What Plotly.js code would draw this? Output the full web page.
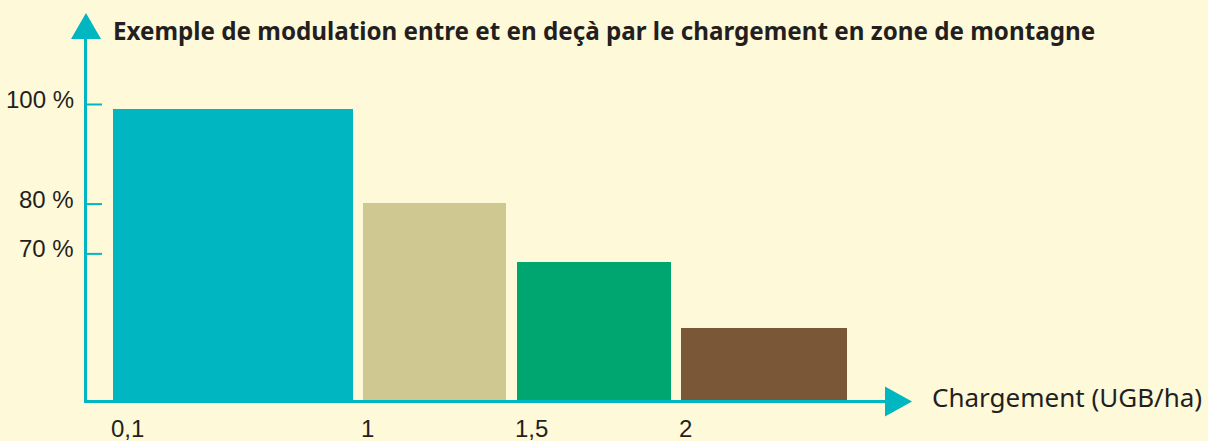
<!DOCTYPE html>
<html>
<head>
<meta charset="utf-8">
<script src="https://cdn.plot.ly/plotly-3.0.1.min.js"></script>
<style>html,body{margin:0;padding:0;background:#FEF9D8;}#chart{width:1208px;height:441px;}</style>
</head>
<body>
<div id="chart"></div>
<script>
// ---- data ----
const categories = ["0,1", "1", "1,5", "2"];          // chargement thresholds (UGB/ha)
const values = [99.1, 80.2, 68.4, 55.2];                // modulation (%)
const yTickVals = [100, 80, 70];
const yTickText = ["100 %", "80 %", "70 %"];
const titleText = "Exemple de modulation entre et en deçà par le chargement en zone de montagne";
const xAxisLabel = "Chargement (UGB/ha)";

// ---- layout / style constants ----
const W = 1208, H = 441;
const barEdges = [[113, 353], [363, 506], [517, 671], [681, 847]]; // x-axis units
const barColors = ["#00B6C1", "#CFC891", "#00A66F", "#7A5737"];
const teal = "#00B6C1";
const textColor = "#231F20";
const bg = "#FEF9D8";
const yRange = [32.43, 120.98];
const baseline = 40.46;
const fontFam = "Liberation Sans, Arial, sans-serif";
const wideFam = "Noto Sans, Liberation Sans, sans-serif";

const px2y = p => yRange[1] - (p / H) * (yRange[1] - yRange[0]);
const y2px = v => (yRange[1] - v) / (yRange[1] - yRange[0]) * H;

const axisX = 85.5;
const axisYpx = y2px(baseline) + 0.5;

const trace = {
  type: "bar",
  x: barEdges.map(e => (e[0] + e[1]) / 2),
  width: barEdges.map(e => e[1] - e[0]),
  y: values.map(v => v - baseline),
  base: values.map(() => baseline),
  marker: {color: barColors, line: {width: 0}},
  hoverinfo: "skip",
  showlegend: false
};

const shapes = [];
// y axis
shapes.push({type: "line", xref: "x", yref: "y", x0: axisX, x1: axisX, y0: px2y(403), y1: px2y(36), line: {color: teal, width: 3}});
// up arrow head
shapes.push({type: "path", xref: "x", yref: "y",
  path: `M ${71} ${px2y(39)} L ${86} ${px2y(13)} L ${101} ${px2y(39)} Z`,
  fillcolor: teal, line: {width: 0}});
// x axis
shapes.push({type: "line", xref: "x", yref: "y", x0: 84, x1: 888, y0: px2y(axisYpx), y1: px2y(axisYpx), line: {color: teal, width: 3}});
// right arrow head
shapes.push({type: "path", xref: "x", yref: "y",
  path: `M ${885} ${px2y(axisYpx - 15)} L ${912} ${px2y(axisYpx)} L ${885} ${px2y(axisYpx + 15)} Z`,
  fillcolor: teal, line: {width: 0}});
// y ticks
yTickVals.forEach(v => {
  shapes.push({type: "line", xref: "x", yref: "y", x0: 86, x1: 102, y0: v, y1: v, line: {color: teal, width: 2}});
});

const annotations = [];
yTickVals.forEach((v, i) => {
  annotations.push({xref: "x", yref: "y", x: 76, y: v + 1, xanchor: "right", yanchor: "middle",
    text: yTickText[i], showarrow: false, font: {family: fontFam, size: 24, color: textColor}});
});
categories.forEach((c, i) => {
  annotations.push({xref: "x", yref: "y", x: barEdges[i][0] - 4, y: px2y(428), xanchor: "left", yanchor: "middle",
    text: c, showarrow: false, font: {family: fontFam, size: 24, color: textColor}});
});
annotations.push({xref: "x", yref: "y", x: 930, y: px2y(397), xanchor: "left", yanchor: "middle",
  text: xAxisLabel, showarrow: false, font: {family: wideFam, size: 26, color: textColor}});
annotations.push({xref: "x", yref: "y", x: 111, y: px2y(30), xanchor: "left", yanchor: "middle",
  text: "<b>" + titleText + "</b>", showarrow: false, font: {family: wideFam, size: 24.2, color: textColor}});

const layout = {
  width: W, height: H,
  margin: {l: 0, r: 0, t: 0, b: 0, pad: 0},
  paper_bgcolor: bg, plot_bgcolor: bg,
  xaxis: {range: [0, W], visible: false, fixedrange: true},
  yaxis: {range: yRange, visible: false, fixedrange: true},
  bargap: 0,
  shapes: shapes,
  annotations: annotations
};

Plotly.newPlot("chart", [trace], layout, {staticPlot: true, displayModeBar: false});
</script>
</body>
</html>
